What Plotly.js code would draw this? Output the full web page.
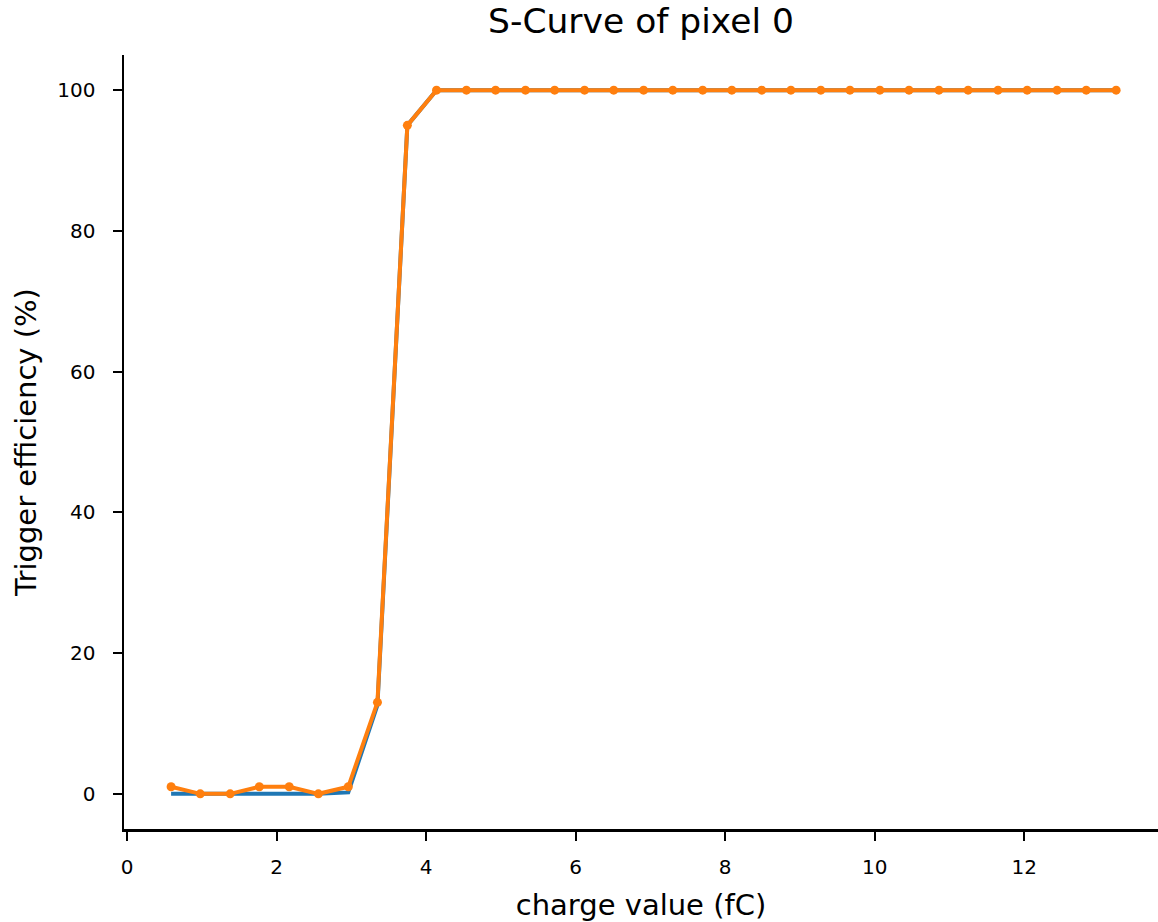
<!DOCTYPE html>
<html><head><meta charset="utf-8">
<script src="https://cdn.plot.ly/plotly-3.0.1.min.js"></script>
<style>html,body{margin:0;padding:0;background:#fff;overflow:hidden}</style>
</head><body>
<div id="chart" style="width:1158px;height:922px"></div>
<script>
const charge = [0.59,0.98,1.38,1.77,2.17,2.56,2.96,3.35,3.75,4.14,4.54,4.93,5.33,5.72,6.12,6.51,6.91,7.30,7.70,8.09,8.49,8.88,9.28,9.67,10.07,10.46,10.86,11.25,11.65,12.04,12.44,12.83,13.23];
const measured = [1,0,0,1,1,0,1,13,95,100,100,100,100,100,100,100,100,100,100,100,100,100,100,100,100,100,100,100,100,100,100,100,100];
const fitted = [0,0,0,0,0,0,0.2,12.6,95,100,100,100,100,100,100,100,100,100,100,100,100,100,100,100,100,100,100,100,100,100,100,100,100];
const xTicks = [0,2,4,6,8,10,12];
const yTicks = [0,20,40,60,80,100];

const font = "DejaVu Sans, sans-serif";
Plotly.newPlot('chart', [
  {x: charge, y: fitted, mode: 'lines', line: {color: '#1f77b4', width: 4}, hoverinfo: 'skip'},
  {x: charge, y: measured, mode: 'lines+markers', line: {color: '#ff7f0e', width: 4}, marker: {color: '#ff7f0e', size: 9}}
], {
  width: 1158, height: 922,
  margin: {l: 124, r: 0, t: 55, b: 93},
  showlegend: false,
  paper_bgcolor: '#fff', plot_bgcolor: '#fff',
  font: {family: font, color: '#000'},
  title: {text: 'S-Curve of pixel 0', font: {size: 34.5, family: font, color: '#000'}, x: 0.5, xanchor: 'center', xref: 'paper', yref: 'container', y: 0.977, yanchor: 'middle'},
  xaxis: {
    range: [-0.04, 13.79], tickvals: xTicks, ticktext: xTicks.map(String),
    showgrid: false, zeroline: false, showline: true, linecolor: '#000', linewidth: 2.5,
    ticks: 'outside', ticklen: 9, tickwidth: 2, tickcolor: '#000', ticklabelstandoff: 9,
    tickfont: {size: 20, family: font, color: '#000'},
    title: {text: 'charge value (fC)', font: {size: 29, family: font, color: '#000'}, standoff: 19}
  },
  yaxis: {
    range: [-5, 105], tickvals: yTicks, ticktext: yTicks.map(String),
    showgrid: false, zeroline: false, showline: true, linecolor: '#000', linewidth: 2.5,
    ticks: 'outside', ticklen: 9, tickwidth: 2, tickcolor: '#000', ticklabelstandoff: 13,
    tickfont: {size: 20, family: font, color: '#000'},
    title: {text: 'Trigger efficiency (%)', font: {size: 29, family: font, color: '#000'}, standoff: 12}
  }
}, {displayModeBar: false, staticPlot: true});
</script>
</body></html>
